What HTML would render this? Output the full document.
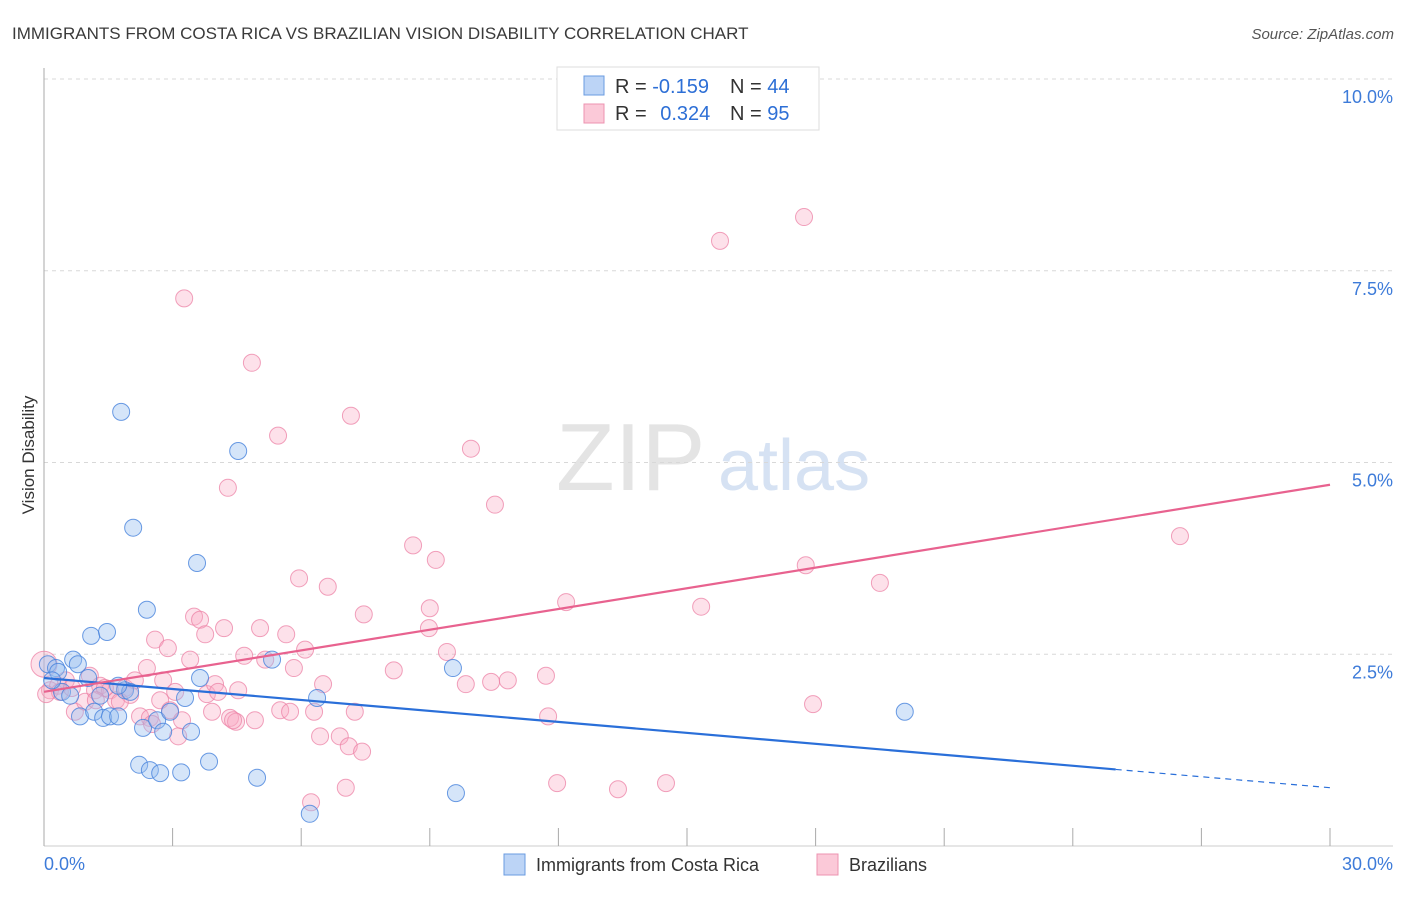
<!DOCTYPE html>
<html><head><meta charset="utf-8">
<style>
body{margin:0;background:#fff;font-family:"Liberation Sans",sans-serif;}
svg text{font-family:"Liberation Sans",sans-serif;}
</style></head>
<body>
<svg id="chart" width="1406" height="892" viewBox="0 0 1406 892">
<text x="12" y="39" font-size="17" fill="#3a3a3a">IMMIGRANTS FROM COSTA RICA VS BRAZILIAN VISION DISABILITY CORRELATION CHART</text>
<text x="1394" y="39" font-size="15" fill="#555" font-style="italic" text-anchor="end">Source: ZipAtlas.com</text>
<text x="556" y="490" font-size="96" fill="#e4e4e4" font-family="Liberation Serif">ZIP</text>
<text x="718" y="490" font-size="72" fill="#d6e2f3">atlas</text>
<g id="grid"></g>
<g id="axes"></g>
<g id="pts"></g>
<g id="trends"></g>
<text transform="translate(34,455) rotate(-90)" font-size="17" fill="#333" text-anchor="middle">Vision Disability</text>
<g>
<rect x="557" y="67" width="262" height="63" fill="#fff" stroke="#ddd"/>
<rect x="584" y="76" width="20" height="19" fill="#bcd4f6" stroke="#6a9be0"/>
<rect x="584" y="104" width="20" height="19" fill="#fbc9d8" stroke="#ec93b0"/>
<text x="615" y="93" font-size="20" fill="#333">R = <tspan fill="#2d6fd6">-0.159</tspan></text>
<text x="730" y="93" font-size="20" fill="#333">N = <tspan fill="#2d6fd6">44</tspan></text>
<text x="615" y="120" font-size="20" fill="#333">R = <tspan fill="#2d6fd6" dx="8">0.324</tspan></text>
<text x="730" y="120" font-size="20" fill="#333">N = <tspan fill="#2d6fd6">95</tspan></text>
</g>
<g>
<rect x="504" y="854" width="21" height="21" fill="#bcd4f6" stroke="#6a9be0"/>
<text x="536" y="871" font-size="18" fill="#333">Immigrants from Costa Rica</text>
<rect x="817" y="854" width="21" height="21" fill="#fbc9d8" stroke="#ec93b0"/>
<text x="849" y="871" font-size="18" fill="#333">Brazilians</text>
</g>
</svg>
<script>
const yTicks=[2.5,5.0,7.5,10.0];
const yTickLabels=["2.5%","5.0%","7.5%","10.0%"];
const xTicks=[0,3,6,9,12,15,18,21,24,27,30];
const blueX=[0.09,0.28,0.33,0.68,0.79,0.42,1.03,0.61,0.84,1.17,1.38,1.54,1.73,1.31,1.89,2.01,2.31,2.64,2.78,2.94,3.29,3.43,3.64,2.22,2.47,2.71,3.20,3.85,4.97,6.20,9.61,9.54,6.37,5.32,1.10,1.47,2.40,3.57,2.08,1.80,4.53,20.08,1.73,0.19];
const blueY=[2.37,2.32,2.27,2.43,2.37,2.01,2.19,1.96,1.69,1.75,1.67,1.69,1.69,1.96,2.03,2.01,1.54,1.64,1.49,1.75,1.93,1.49,2.19,1.06,0.99,0.95,0.96,1.10,0.89,0.42,0.69,2.32,1.93,2.43,2.74,2.79,3.08,3.69,4.15,5.66,5.15,1.75,2.09,2.16];
const pinkX=[0,0.14,0.33,0.51,0.72,0.96,1.07,1.19,1.31,1.54,1.68,1.89,2.01,2.12,2.24,2.40,2.47,2.59,2.71,2.78,2.89,2.94,3.06,3.13,3.22,3.27,3.41,3.50,3.64,3.76,3.80,3.92,3.99,4.06,4.20,4.29,4.34,4.48,4.53,4.67,4.85,4.92,5.04,5.16,5.46,5.51,5.65,5.74,5.83,5.95,6.09,6.23,6.30,6.44,6.51,6.62,6.90,7.04,7.11,7.16,7.25,7.42,7.46,8.16,8.61,8.98,9.00,9.14,9.40,9.84,9.96,10.43,10.52,10.82,11.71,11.76,11.97,12.18,13.39,14.51,15.33,15.77,17.73,17.77,17.94,19.50,26.50,0.37,0.65,1.42,1.21,1.77,2.52,4.41,0.05];
const pinkY=[2.37,2.03,2.09,2.16,1.75,1.88,2.22,2.03,2.09,2.03,1.90,2.06,1.97,2.16,1.69,2.32,1.67,2.69,1.90,2.16,2.58,1.77,2.01,1.43,1.64,7.14,2.43,2.99,2.95,2.76,1.98,1.75,2.11,2.01,2.84,4.67,1.67,1.62,2.03,2.48,6.30,1.64,2.84,2.43,5.35,1.77,2.76,1.75,2.32,3.49,2.56,0.57,1.75,1.43,2.11,3.38,1.43,0.76,1.30,5.61,1.75,1.23,3.02,2.29,3.92,2.84,3.10,3.73,2.53,2.11,5.18,2.14,4.45,2.16,2.22,1.69,0.82,3.18,0.74,0.82,3.12,7.89,8.20,3.66,1.85,3.43,4.04,2.01,2.06,2.06,1.90,1.88,1.59,1.64,1.98];
const blueTrend=[2.19,0.76];
const pinkTrend=[2.01,4.71];
const blueSolidEnd=25;

const NS="http://www.w3.org/2000/svg";
const X0=44,X1=1330,Y0=846,Y10=79;
const sx=v=>X0+(X1-X0)*v/30;
const sy=v=>Y0-(Y0-Y10)*v/10;
function mk(tag,attrs,parent){const e=document.createElementNS(NS,tag);for(const k in attrs)e.setAttribute(k,attrs[k]);parent.appendChild(e);return e;}
const grid=document.getElementById('grid'),axes=document.getElementById('axes'),pts=document.getElementById('pts'),tr=document.getElementById('trends');
yTicks.forEach((t,i)=>{
  const l=mk('line',{x1:X0,x2:1393,y1:sy(t),y2:sy(t),stroke:'#d8d8d8','stroke-dasharray':'4,4'},grid);
  
  
  const tx=mk('text',{x:1393,y:sy(t)+24,'font-size':18,fill:'#3d7bd9','text-anchor':'end'},axes);
  tx.textContent=yTickLabels[i];
  
  
});
const ya=mk('line',{x1:X0,x2:X0,y1:68,y2:Y0,stroke:'#aaa'},axes);


const xa=mk('line',{x1:X0,x2:1393,y1:Y0,y2:Y0,stroke:'#ccc'},axes);


xTicks.forEach(t=>{
  const l=mk('line',{x1:sx(t),x2:sx(t),y1:828,y2:Y0,stroke:'#aaa'},axes);
  
  
});
const xl0=mk('text',{x:44,y:870,'font-size':18,fill:'#3d7bd9'},axes);xl0.textContent='0.0%';


const xl1=mk('text',{x:1393,y:870,'font-size':18,fill:'#3d7bd9','text-anchor':'end'},axes);xl1.textContent='30.0%';


pinkX.forEach((x,i)=>{
  const c=mk('circle',{cx:sx(x),cy:sy(pinkY[i]),r:i===0?13:8.5,fill:'rgba(248,170,195,0.35)',stroke:'rgba(236,130,165,0.75)','stroke-width':1},pts);
  
  
});
blueX.forEach((x,i)=>{
  const c=mk('circle',{cx:sx(x),cy:sy(blueY[i]),r:8.5,fill:'rgba(150,190,240,0.4)',stroke:'rgba(70,130,220,0.8)','stroke-width':1},pts);
  
  
});
const bAt=x=>blueTrend[0]+(blueTrend[1]-blueTrend[0])*x/30;
const b1=mk('line',{x1:sx(0),y1:sy(bAt(0)),x2:sx(blueSolidEnd),y2:sy(bAt(blueSolidEnd)),stroke:'#2a6fd9','stroke-width':2.2},tr);


const b2=mk('line',{x1:sx(blueSolidEnd),y1:sy(bAt(blueSolidEnd)),x2:sx(30),y2:sy(bAt(30)),stroke:'#2a6fd9','stroke-width':1.2,'stroke-dasharray':'6,5'},tr);


const p1=mk('line',{x1:sx(0),y1:sy(pinkTrend[0]),x2:sx(30),y2:sy(pinkTrend[1]),stroke:'#e8628f','stroke-width':2.2},tr);


</script>
</body></html>
